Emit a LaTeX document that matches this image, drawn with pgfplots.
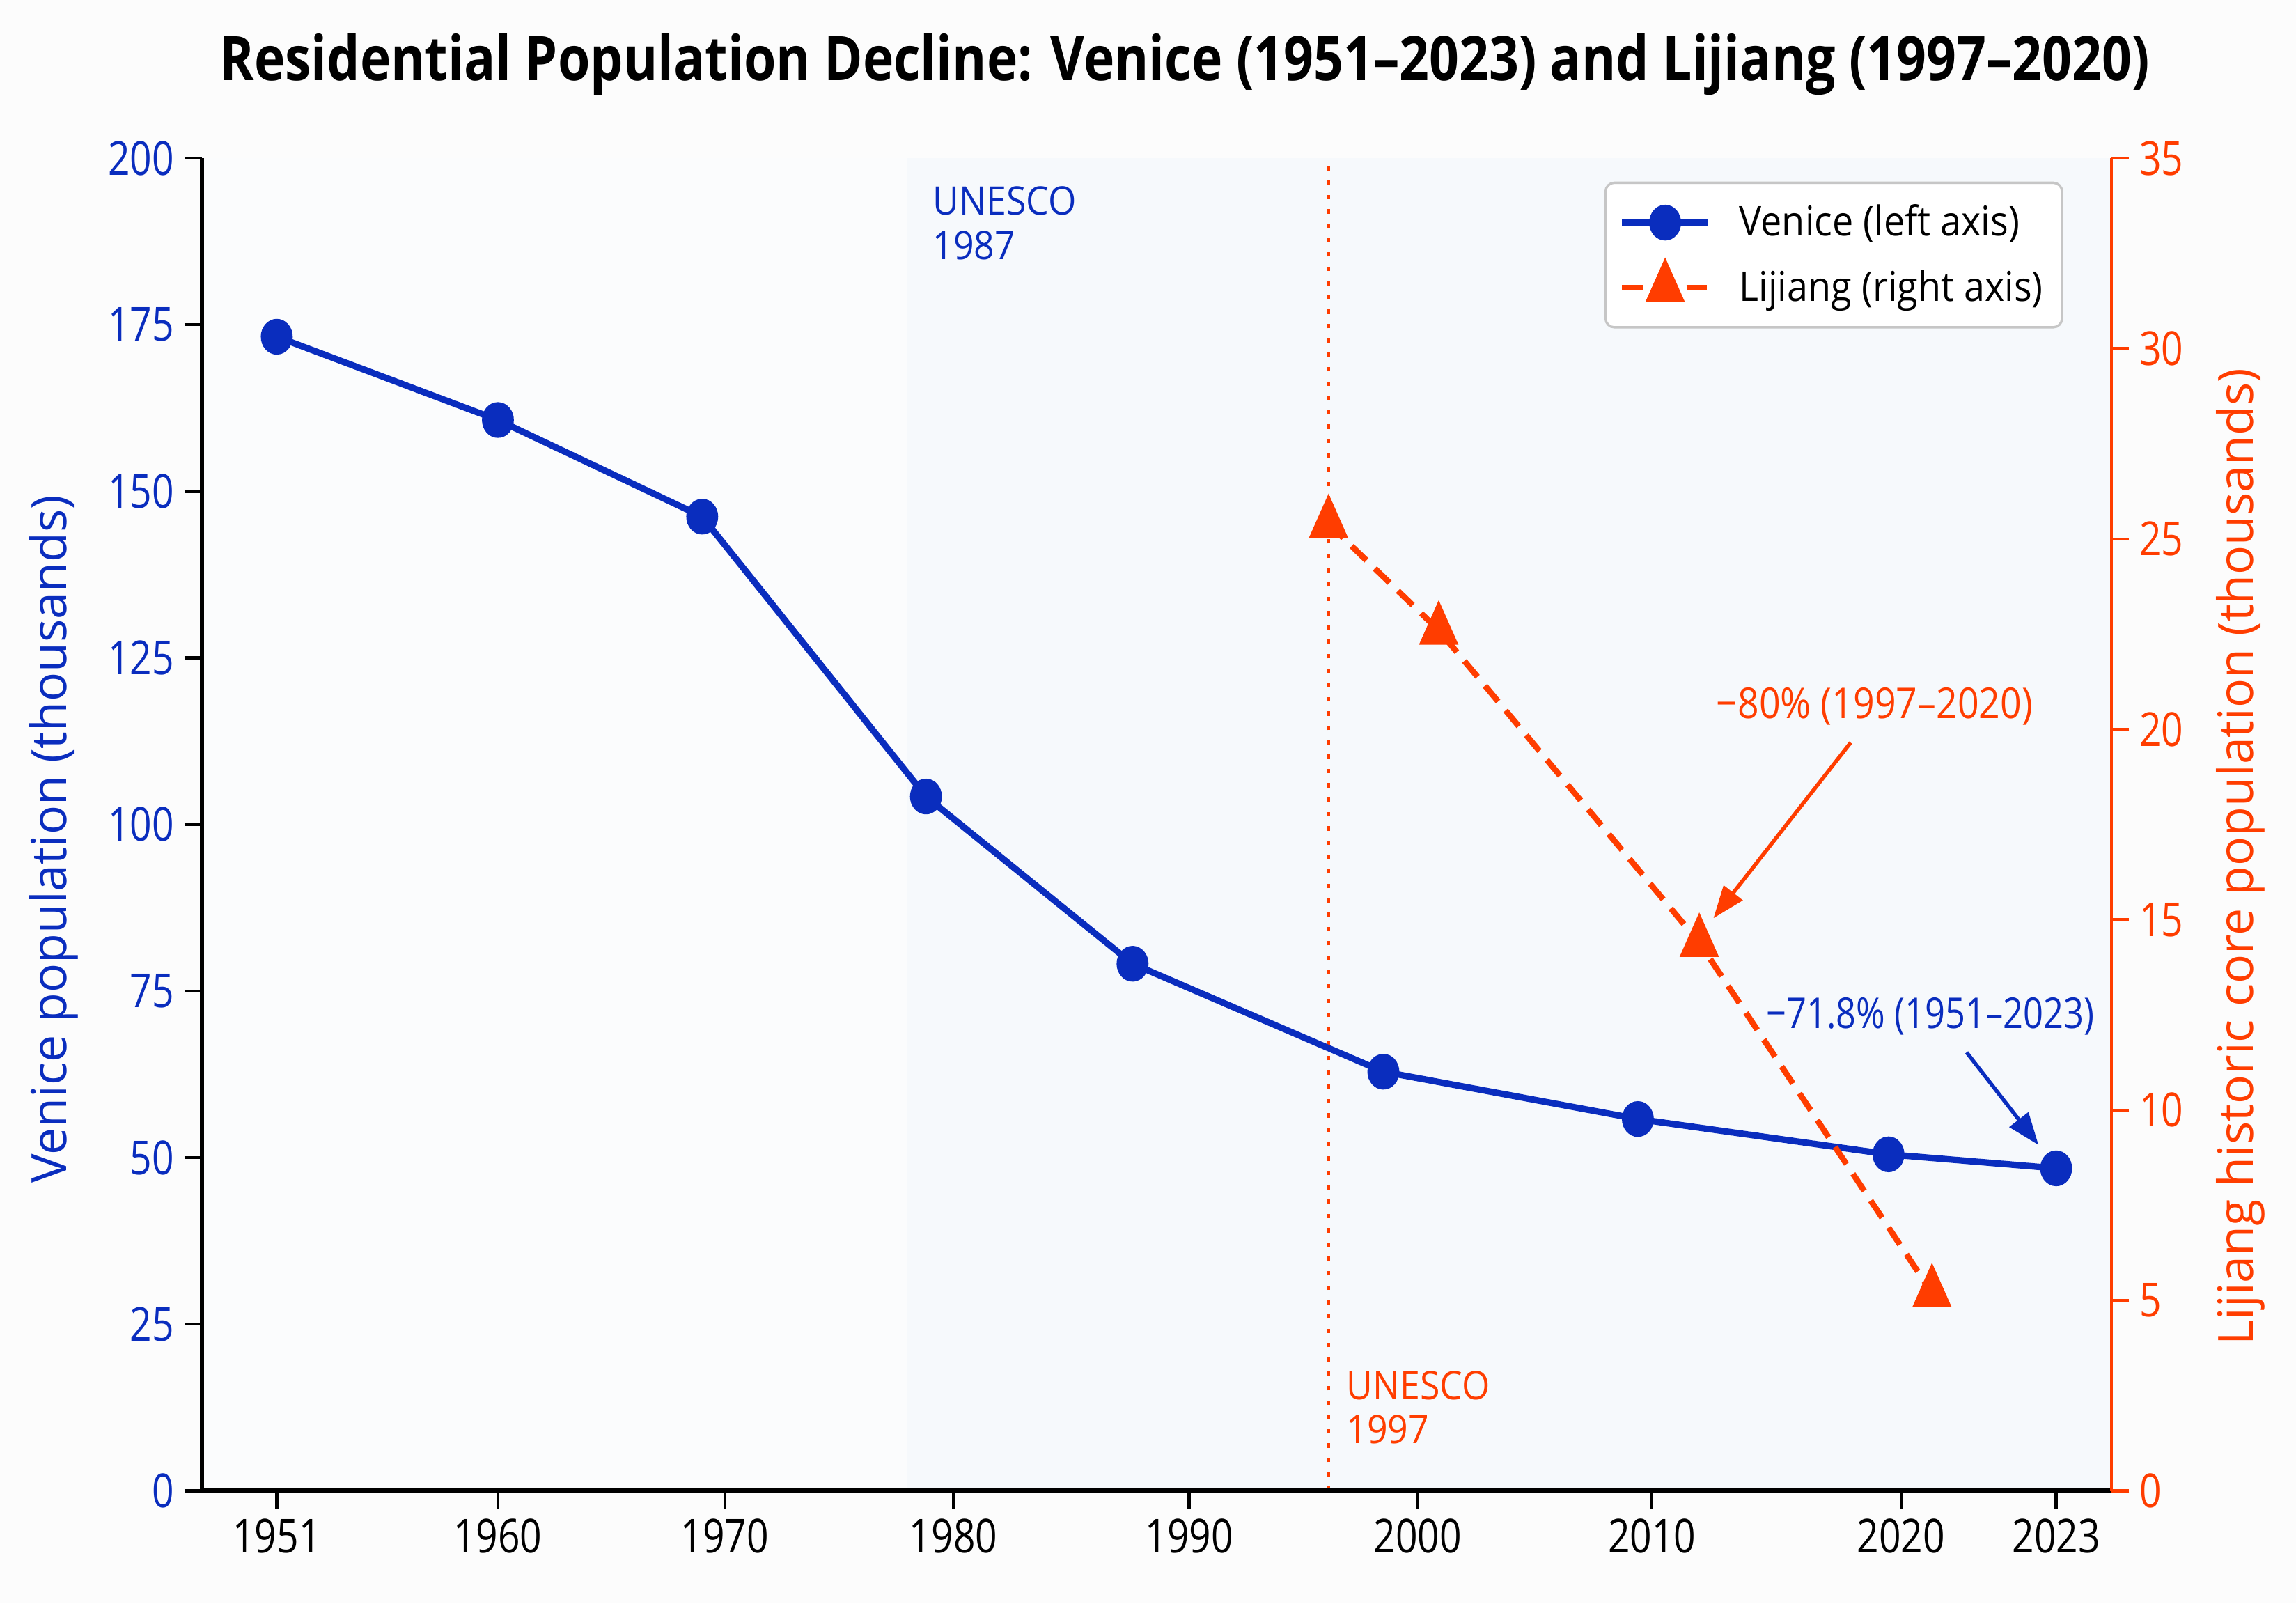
\documentclass[border=0pt]{standalone}
\usepackage{fontspec}
\setmainfont{Open Sans}
\newfontfamily\titlefam[FakeStretch=0.85]{Open Sans}
\newfontfamily\tickfam[FakeStretch=0.82]{Open Sans}
\newfontfamily\legfam[FakeStretch=0.915]{Open Sans}
\newfontfamily\annfam[FakeStretch=0.88]{Open Sans}
\newfontfamily\annbfam[FakeStretch=0.83]{Open Sans}
\newfontfamily\unfam[FakeStretch=0.92]{Open Sans}
\usepackage{pgfplots}
\pgfplotsset{compat=1.18}
\usetikzlibrary{arrows.meta}
\definecolor{vblue}{HTML}{0A2DBE}
\definecolor{lorange}{HTML}{FF3D00}
\definecolor{pagebg}{HTML}{FCFCFC}
\definecolor{plotbg}{HTML}{FBFCFD}
\definecolor{bandbg}{HTML}{F6F9FC}
\newcommand\tickfont{\tickfam\fontsize{16}{19}\selectfont}
\newcommand\labelfont{\fontsize{16.6}{19}\selectfont}
\newcommand\legfont{\legfam\fontsize{14}{17}\selectfont}
\newcommand\annfont{\annfam\fontsize{14.5}{17}\selectfont}
\newcommand\annbfont{\annbfam\fontsize{14.5}{17}\selectfont}
\newcommand\unfont{\unfam\fontsize{13.4}{15}\selectfont}
\newcommand\titlefont{\titlefam\bfseries\fontsize{21}{25}\selectfont}
\pgfplotsset{
  /pgf/number format/assume math mode=true,
  yrs/.style={
    x coord trafo/.code={\pgfmathparse{ifthenelse(##1<1960, 189+(##1-1951)*16.7778, ifthenelse(##1<1970, 340+(##1-1960)*15.5, ifthenelse(##1<1980, 495+(##1-1970)*15.6, ifthenelse(##1<1990, 651+(##1-1980)*16.1, ifthenelse(##1<2000, 812+(##1-1990)*15.6, ifthenelse(##1<2010, 968+(##1-2000)*16, ifthenelse(##1<2020, 1128+(##1-2010)*17, 1298+(##1-2020)*35.3333)))))))}},
    xmin=1947.96, xmax=2024.07,
    scale only axis, width=652pt, height=455pt, clip=false,
  },
}
\pgfplotstableread{
year pop
1951 173.2
1960 160.7
1969 146.2
1978.8 104.2
1987.6 79.1
1998.5 62.9
2009.4 55.8
2019.5 50.5
2023 48.4
}\venice
\pgfplotstableread{
year pop
1996.1 25.4
2000.9 22.6
2011.9 14.4
2020.6 5.2
}\lijiang
\begin{document}
\begin{tikzpicture}
\fill[pagebg] (-69pt,-38.5pt) rectangle (715pt,509pt);
\begin{axis}[yrs,
  ymin=0, ymax=200,
  axis x line*=bottom, axis y line*=left, axis on top,
  axis background/.style={fill=plotbg},
  xtick={1951,1960,1970,1980,1990,2000,2010,2020,2023},
  xticklabels={1951,1960,1970,1980,1990,2000,2010,2020,2023},
  ytick={0,25,...,200},
  tick align=outside, major tick length=6pt,
  tick style={black, line width=1pt},
  x axis line style={line width=1.6pt},
  y axis line style={line width=1.3pt},
  yticklabel style={text=vblue, font=\tickfont},
  xticklabel style={font=\tickfont},
  ylabel={Venice population (thousands)},
  ylabel style={at={(axis description cs:0,0.5)}, anchor=center, yshift=50.5pt, xshift=-5pt, text=vblue, font=\labelfont},
]
\fill[bandbg] (axis cs:1978,0) rectangle (axis cs:2024.07,200);
\draw[lorange, line width=1pt, dash pattern=on 1.5pt off 3.4pt] (axis cs:1996.1,0) -- (axis cs:1996.1,200);
\addplot[vblue, line width=2.2pt, mark=*, mark size=5pt, mark options={solid, fill=vblue, draw=vblue, xscale=0.87}] table[x=year, y=pop] {\venice};
\node[anchor=north west, align=left, inner sep=0pt, text=vblue, font=\unfont] at (axis cs:1979.07,195.8) {UNESCO\\1987};
\node[anchor=north west, align=left, inner sep=0pt, text=lorange, font=\unfont] at (axis cs:1996.86,18.1) {UNESCO\\1997};
\node[text=vblue, font=\annbfont] at (axis cs:2020.57,71.2) {−71.8\% (1951–2023)};
\draw[vblue, line width=1.3pt, -{Triangle[length=11pt,width=8pt]}] (axis cs:2021.27,65.8) -- (axis cs:2022.66,51.9);
\end{axis}
\begin{axis}[yrs,
  ymin=0, ymax=35,
  axis x line=none, axis y line*=right,
  ytick={0,5,...,35},
  tick align=outside, major tick length=6pt,
  tick style={lorange, line width=1pt},
  y axis line style={lorange, line width=1pt},
  yticklabel style={text=lorange, font=\tickfont},
  ylabel={Lijiang historic core population (thousands)},
  ylabel style={at={(axis description cs:1,0.5)}, anchor=center, yshift=-44pt, xshift=-11pt, text=lorange, font=\labelfont},
  legend style={at={(1,1)}, anchor=north east, xshift=-16.5pt, yshift=-8pt, draw=gray!45, line width=0.8pt, rounded corners=3pt, fill=white, font=\legfont, inner xsep=4.5pt, inner ysep=5.5pt, row sep=6pt, text=black},
  legend cell align=left,
  /tikz/every odd column/.append style={column sep=7.5pt},
  legend image code/.code={\draw[mark repeat=2, mark phase=2, #1] plot coordinates {(0pt,0pt) (14.75pt,0pt) (29.5pt,0pt)};},
]
\addlegendimage{vblue, line width=2.2pt, mark=*, mark size=5pt, mark options={solid, fill=vblue, draw=vblue, xscale=0.87}}
\addlegendentry{Venice (left axis)}
\addplot[lorange, line width=2pt, dash pattern=on 7pt off 4pt, mark=triangle*, mark size=6pt, mark options={solid, fill=lorange, draw=lorange, yscale=1.3}] table[x=year, y=pop] {\lijiang};
\addlegendentry{Lijiang (right axis)}
\node[text=lorange, font=\annfont] at (axis cs:2018.94,20.6) {−80\% (1997–2020)};
\draw[lorange, line width=1.3pt, -{Triangle[length=11pt,width=8pt]}] (axis cs:2017.98,19.65) -- (axis cs:2012.47,15.04);
\end{axis}
\node[anchor=base, font=\titlefont] at (335.5pt,481.6pt) {Residential Population Decline: Venice (1951–2023) and Lijiang (1997–2020)};
\pgfresetboundingbox
\useasboundingbox (-69pt,-38.5pt) rectangle (715pt,509pt);
\end{tikzpicture}
\end{document}
